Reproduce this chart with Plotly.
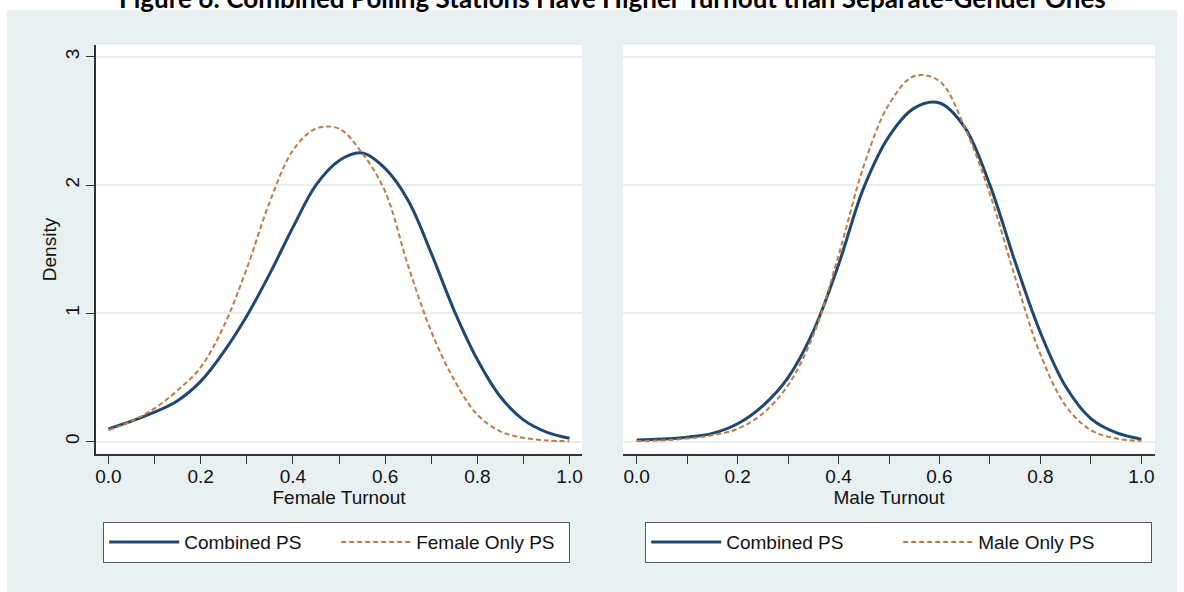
import plotly.graph_objects as go

# ---------------- data ----------------
grid_x = [0.00, 0.05, 0.10, 0.15, 0.20, 0.25, 0.30, 0.35, 0.40, 0.45, 0.50,
          0.55, 0.60, 0.65, 0.70, 0.75, 0.80, 0.85, 0.90, 0.95, 1.00]

female_combined = [0.10, 0.16, 0.23, 0.32, 0.47, 0.70, 0.98, 1.31, 1.67, 2.00, 2.19,
                   2.25, 2.13, 1.88, 1.47, 1.02, 0.64, 0.35, 0.17, 0.075, 0.027]
female_only = [0.09, 0.16, 0.26, 0.40, 0.58, 0.90, 1.35, 1.87, 2.27, 2.44, 2.44,
               2.25, 1.95, 1.37, 0.86, 0.48, 0.21, 0.08, 0.03, 0.01, 0.004]

male_combined = [0.013, 0.02, 0.035, 0.065, 0.14, 0.28, 0.50, 0.86, 1.38, 1.98, 2.38,
                 2.60, 2.64, 2.45, 2.00, 1.40, 0.85, 0.43, 0.18, 0.07, 0.02]
male_only = [0.005, 0.01, 0.025, 0.05, 0.10, 0.22, 0.44, 0.83, 1.45, 2.15, 2.63,
             2.85, 2.81, 2.45, 1.93, 1.28, 0.68, 0.28, 0.09, 0.025, 0.005]

x_ticks = [0.0, 0.2, 0.4, 0.6, 0.8, 1.0]
x_tick_labels = ["0.0", "0.2", "0.4", "0.6", "0.8", "1.0"]
y_ticks = [0, 1, 2, 3]
y_tick_labels = ["0", "1", "2", "3"]

title_text = "Figure 6: Combined Polling Stations Have Higher Turnout than Separate-Gender Ones"

# ---------------- style ----------------
NAVY = "#1f4870"
ORANGE = "#c27a45"
BG = "#e9f0f2"
GRID = "#e8eef0"
FONT = "Liberation Sans, Arial, Helvetica, sans-serif"
FS = 19

fig = go.Figure()

solid = dict(color=NAVY, width=3, shape="spline", smoothing=1.0)
dashed = dict(color=ORANGE, width=2, dash="5px,3px", shape="spline", smoothing=1.0)

fig.add_trace(go.Scatter(x=grid_x, y=female_combined, mode="lines", name="Combined PS",
                         line=solid, xaxis="x", yaxis="y", legend="legend"))
fig.add_trace(go.Scatter(x=grid_x, y=female_only, mode="lines", name="Female Only PS",
                         line=dashed, xaxis="x", yaxis="y", legend="legend"))
fig.add_trace(go.Scatter(x=grid_x, y=male_combined, mode="lines", name="Combined PS",
                         line=solid, xaxis="x2", yaxis="y2", legend="legend2"))
fig.add_trace(go.Scatter(x=grid_x, y=male_only, mode="lines", name="Male Only PS",
                         line=dashed, xaxis="x2", yaxis="y2", legend="legend2"))

W, H = 1184, 592
L, R, T, B = 96, 29, 45, 138
pw = W - L - R
ph = H - T - B


def px_x(p):
    return (p - L) / pw


def px_y(p):
    return (H - B - p) / ph


xcommon = dict(
    range=[-0.027, 1.027], tickvals=x_ticks, ticktext=x_tick_labels,
    ticks="outside", ticklen=8, tickwidth=1.2, tickcolor="#333",
    minor=dict(dtick=0.1, tick0=0, ticks="outside", ticklen=8, tickwidth=1.2, tickcolor="#333", showgrid=False),
    showline=True, linecolor="#333", linewidth=1.5, showgrid=False, zeroline=False,
    tickfont=dict(family=FONT, size=FS, color="#111"), ticklabelstandoff=-4,
    title_font=dict(family=FONT, size=FS, color="#111"), title_standoff=2,
)

legend_common = dict(orientation="h", yanchor="top", xanchor="left",
                     bgcolor="white", bordercolor="#555", borderwidth=1.2,
                     font=dict(family=FONT, size=FS, color="#111"),
                     entrywidthmode="pixels", itemwidth=70)

fig.update_layout(
    width=W, height=H,
    margin=dict(l=L, r=R, t=T, b=B, autoexpand=False),
    paper_bgcolor="white", plot_bgcolor="rgba(0,0,0,0)",
    showlegend=True,
    xaxis=dict(domain=[0, px_x(582)], anchor="y", title_text="Female Turnout", **xcommon),
    xaxis2=dict(domain=[px_x(623), 1], anchor="y2", title_text="Male Turnout", **xcommon),
    yaxis=dict(range=[-0.096, 3.092], tickvals=y_ticks, ticktext=y_tick_labels, tickangle=-90,
               ticks="outside", ticklen=8, tickwidth=1.2, tickcolor="#333",
               showline=True, linecolor="#333", linewidth=1.5,
               showgrid=True, gridcolor=GRID, gridwidth=2, zeroline=False,
               tickfont=dict(family=FONT, size=FS, color="#111"),
               title_text="Density", title_font=dict(family=FONT, size=FS, color="#111"),
               title_standoff=0),
    yaxis2=dict(range=[-0.096, 3.092], anchor="x2", tickvals=y_ticks, showticklabels=False,
                ticks="", showline=False, showgrid=True, gridcolor=GRID, gridwidth=2, zeroline=False),
    legend=dict(x=px_x(103), y=px_y(522), entrywidth=147, **legend_common),
    legend2=dict(x=px_x(645), y=px_y(522), entrywidth=167, **legend_common),
    shapes=[
        dict(type="rect", xref="paper", yref="paper", x0=px_x(7), x1=px_x(1177),
             y0=px_y(592), y1=px_y(10), fillcolor=BG, line=dict(width=0), layer="below"),
        dict(type="rect", xref="paper", yref="paper", x0=0, x1=px_x(582),
             y0=0, y1=1, fillcolor="white", line=dict(width=0), layer="below"),
        dict(type="rect", xref="paper", yref="paper", x0=px_x(623), x1=1,
             y0=0, y1=1, fillcolor="white", line=dict(width=0), layer="below"),
    ],
    annotations=[
        dict(text="<b>" + title_text + "</b>", xref="paper", yref="paper",
             x=px_x(612), y=px_y(-2), xanchor="center", yanchor="middle", showarrow=False,
             font=dict(family="Lato, Open Sans, sans-serif", size=26, color="#000")),
    ],
)

fig.write_html("out.html", config={"displayModeBar": False},
               post_script="document.body.style.margin='0';")
